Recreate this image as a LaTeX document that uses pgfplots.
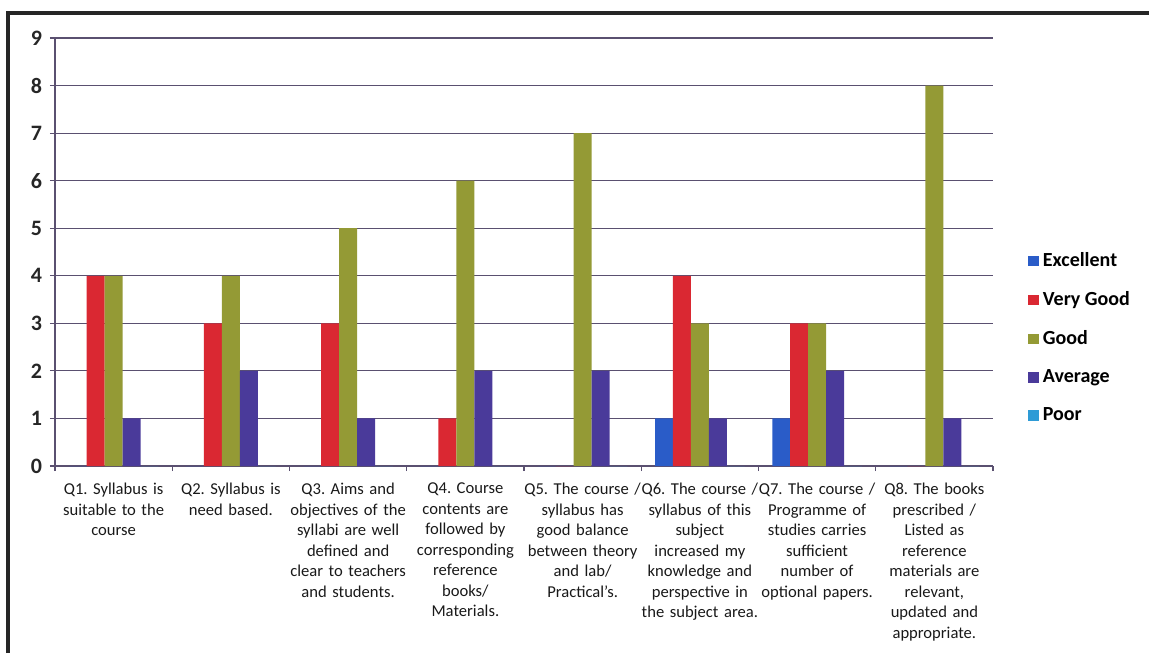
\documentclass[border=0pt]{standalone}
\usepackage{pgfplots}
\pgfplotsset{compat=1.18}
\usepackage{pgfplotstable}
\usepackage{fontspec}
\setmainfont{Carlito}
\frenchspacing

\definecolor{cEx}{HTML}{2A5CC8}
\definecolor{cVG}{HTML}{DA2832}
\definecolor{cG}{HTML}{949A35}
\definecolor{cAvg}{HTML}{4A3A9A}
\definecolor{cPoor}{HTML}{2E9BD6}
\definecolor{gridc}{HTML}{5A5070}

% columns: category, Excellent, Very Good, Good, Average, Poor
\pgfplotstableread{
x ex vg good avg poor
0 0 4 4 1 0
1 0 3 4 2 0
2 0 3 5 1 0
3 0 1 6 2 0
4 0 0 7 2 0
5 1 4 3 1 0
6 1 3 3 2 0
7 0 0 8 1 0
}\survey

\begin{document}
\begin{tikzpicture}
\useasboundingbox (0,0) rectangle (574.5pt,326.5pt);
\draw[line width=1.6pt, black!85] (4pt,0) -- (4pt,320pt) -- (574.5pt,320pt);
\begin{axis}[
  at={(27.5pt,93.5pt)}, anchor=south west,
  scale only axis, width=469pt, height=214pt,
  ybar, bar width=0.153,
  xmin=-0.5, xmax=7.5, ymin=0, ymax=9,
  ytick={0,...,9}, minor ytick={0,...,9},
  xtick={0,...,7},
  minor xtick={-0.5,0.5,...,7.5},
  axis x line=bottom, axis y line=left,
  axis line style={-, gridc, line width=0.6pt},
  tick align=outside,
  tick style={gridc, line width=0.6pt},
  major tick length=0pt, minor tick length=2.5pt,
  ymajorgrids, grid style={gridc, line width=0.6pt},
  /pgf/number format/assume math mode=true,
  yticklabel style={font=\bfseries\fontsize{11}{13}\selectfont, text=black!85, xshift=-3pt},
  xticklabel style={font=\fontsize{8.3}{10.25}\selectfont, text width=60pt, align=center, text=black!90, yshift=-5pt},
  xticklabels={
    {Q1. Syllabus is\\suitable to the\\course},
    {Q2. Syllabus is\\need based.},
    {Q3. Aims and\\objectives of the\\syllabi are well\\defined and\\clear to teachers\\and students.},
    {Q4. Course\\contents are\\followed by\\corresponding\\reference\\books/\\Materials.},
    {Q5. The course /\\syllabus has\\good balance\\between theory\\and lab/\\Practical's.},
    {Q6. The course /\\syllabus of this\\subject\\increased my\\knowledge and\\perspective in\\the subject area.},
    {Q7. The course /\\Programme of\\studies carries\\sufficient\\number of\\optional papers.},
    {Q8. The books\\prescribed /\\Listed as\\reference\\materials are\\relevant,\\updated and\\appropriate.}
  },
  legend image code/.code={\fill[#1] (0pt,-2.6pt) rectangle (5.2pt,2.6pt);},
  legend style={at={(1.031,0.299)}, anchor=west, draw=none, fill=none,
    font=\bfseries\fontsize{10}{12}\selectfont, row sep=7pt,
    /tikz/every even column/.append style={column sep=2pt}},
  legend cell align=left,
]
\addplot[fill=cEx, draw=none, bar shift=-0.306] table[x=x, y=ex] {\survey};
\addplot[fill=cVG, draw=none, bar shift=-0.153] table[x=x, y=vg] {\survey};
\addplot[fill=cG, draw=none, bar shift=0] table[x=x, y=good] {\survey};
\addplot[fill=cAvg, draw=none, bar shift=0.153] table[x=x, y=avg] {\survey};
\addplot[fill=cPoor, draw=none, bar shift=0.306] table[x=x, y=poor] {\survey};
\legend{Excellent, Very Good, Good, Average, Poor}
\end{axis}
\end{tikzpicture}
\end{document}
